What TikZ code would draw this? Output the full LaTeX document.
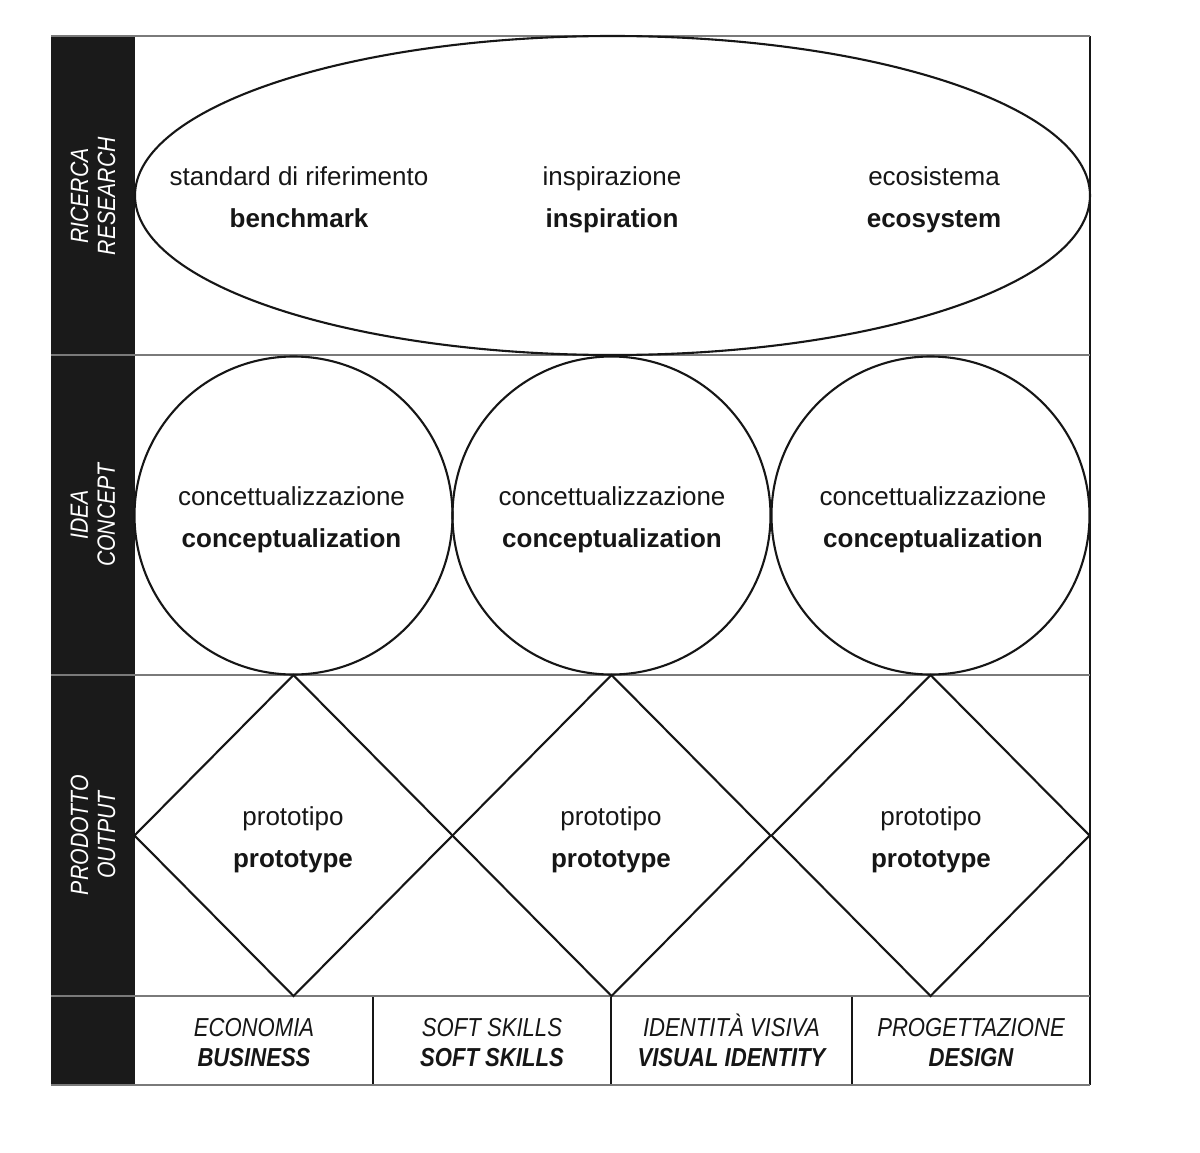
\documentclass[tikz,border=0pt]{standalone}
\usepackage{fontspec}
\setmainfont{Liberation Sans}
\newfontfamily\narrowsans[FakeStretch=0.85]{Liberation Sans}
\usetikzlibrary{shapes.geometric}
\definecolor{ink}{HTML}{161616}
\definecolor{barblack}{HTML}{1A1A1A}
\definecolor{rulegray}{HTML}{7A7A7A}
\tikzset{
  ring/.style={draw=ink, line width=2.1pt, inner sep=0pt, outer sep=0pt},
  rowline/.style={draw=rulegray, line width=2.6pt},
  frameline/.style={draw=ink, line width=2pt},
  itline/.style={text=ink, anchor=base, inner sep=0pt, font=\fontsize{26}{30}\selectfont},
  enline/.style={itline, font=\bfseries\fontsize{26}{30}\selectfont},
  barlabel/.style={text=white, align=center, inner sep=0pt, rotate=90,
    font=\narrowsans\itshape\fontsize{25}{27}\selectfont},
  cellit/.style={text=ink, anchor=base, inner sep=0pt,
    font=\narrowsans\itshape\fontsize{26}{30}\selectfont},
  cellen/.style={cellit, font=\narrowsans\itshape\bfseries\fontsize{26}{30}\selectfont}
}
\begin{document}
\begin{tikzpicture}[x=1pt, y=-1pt]
\useasboundingbox (0,0) rectangle (1200,1153);
\fill[white] (0,0) rectangle (1200,1153);

% left band
\fill[barblack] (51,36) rectangle (135,1085);

% table rules
\draw[frameline] (1090,36) -- (1090,1085);
\draw[frameline] (373,996) -- (373,1085);
\draw[frameline] (611,996) -- (611,1085);
\draw[frameline] (852,996) -- (852,1085);
\draw[rowline] (51,36) -- (1090,36);
\draw[rowline] (51,355) -- (1090,355);
\draw[rowline] (51,675) -- (1090,675);
\draw[rowline] (51,996) -- (1090,996);
\draw[rowline] (51,1085) -- (1090,1085);

% research row
\node[ring, ellipse, minimum width=955, minimum height=319] (research) at (612.5,195.5) {};
\node[itline] (benchmarkIt) at (299,185.5) {standard di riferimento};
\node[enline] (benchmarkEn) at (299,227.5) {benchmark};
\node[itline] (inspirationIt) at (612,185.5) {inspirazione};
\node[enline] (inspirationEn) at (612,227.5) {inspiration};
\node[itline] (ecosystemIt) at (934,185.5) {ecosistema};
\node[enline] (ecosystemEn) at (934,227.5) {ecosystem};

% concept row
\node[ring, circle, minimum size=318] (conceptA) at (293.5,515.5) {};
\node[ring, circle, minimum size=318] (conceptB) at (611.5,515.5) {};
\node[ring, circle, minimum size=318] (conceptC) at (930.5,515.5) {};
\foreach \cx/\nm in {291.5/A, 612/B, 933/C}{
  \node[itline] (concept\nm It) at (\cx,505.5) {concettualizzazione};
  \node[enline] (concept\nm En) at (\cx,547.5) {conceptualization};
}

% output row
\node[ring, diamond, aspect=1, minimum width=318, minimum height=321] (outA) at (293.5,835.5) {};
\node[ring, diamond, aspect=1, minimum width=318, minimum height=321] (outB) at (611.5,835.5) {};
\node[ring, diamond, aspect=1, minimum width=318, minimum height=321] (outC) at (930.5,835.5) {};
\foreach \cx/\nm in {293/A, 611/B, 931/C}{
  \node[itline] (out\nm It) at (\cx,825.5) {prototipo};
  \node[enline] (out\nm En) at (\cx,867.5) {prototype};
}

% band labels
\node[barlabel] (lblresearch) at (93,196) {RICERCA\\RESEARCH};
\node[barlabel] (lblconcept) at (93,515) {IDEA\\CONCEPT};
\node[barlabel] (lbloutput) at (93,835) {PRODOTTO\\OUTPUT};

% disciplines
\node[cellit] (businessIt) at (254,1036.5) {ECONOMIA};
\node[cellen] (businessEn) at (254,1066.5) {BUSINESS};
\node[cellit] (softIt) at (492,1036.5) {SOFT SKILLS};
\node[cellen] (softEn) at (492,1066.5) {SOFT SKILLS};
\node[cellit] (identityIt) at (731.5,1036.5) {IDENTITÀ VISIVA};
\node[cellen] (identityEn) at (731.5,1066.5) {VISUAL IDENTITY};
\node[cellit] (designIt) at (971,1036.5) {PROGETTAZIONE};
\node[cellen] (designEn) at (971,1066.5) {DESIGN};
\end{tikzpicture}
\end{document}
